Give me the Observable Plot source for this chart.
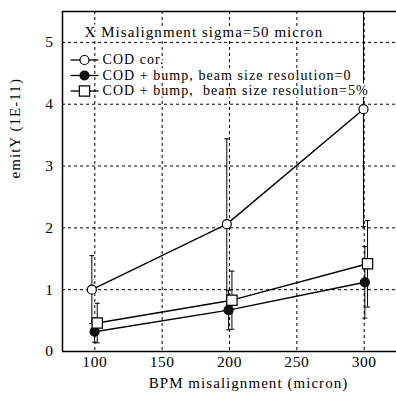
<!DOCTYPE html>
<html><head><meta charset="utf-8">
<script src="https://cdn.jsdelivr.net/npm/d3@7"></script>
<script src="https://cdn.jsdelivr.net/npm/@observablehq/plot@0.6"></script>
<style>
html,body{margin:0;padding:0;background:#fff;}
svg{display:block;overflow:visible}
svg text{font-family:"Liberation Serif","Times New Roman",serif !important;letter-spacing:0.6px;}
svg g[aria-label="text"] text{letter-spacing:1.05px;}
</style>
</head><body><div id="chart"></div>
<script>
const xTicks = [100, 150, 200, 250, 300];
const yTicks = [0, 1, 2, 3, 4, 5];
const xDomain = [76, 324];
const yDomain = [0, 5.5];
const title = "X Misalignment sigma=50 micron";
const xLabel = "BPM misalignment (micron)";
const yLabel = "emitY (1E-11)";
const seriesNames = ["COD cor.", "COD + bump, beam size resolution=0", "COD + bump,  beam size resolution=5%"];
const codX = [97.8, 198, 299.5];
const codY = [1.0, 2.06, 3.92];
const codErr = [0.55, 1.38, 1.9];
const bump0X = [99.8, 199.3, 300.5];
const bump0Y = [0.32, 0.67, 1.12];
const bump0Err = [0.17, 0.32, 0.58];
const bump5X = [101.8, 201.8, 302.5];
const bump5Y = [0.46, 0.83, 1.42];
const bump5Err = [0.32, 0.47, 0.70];

const mk = (name, xs, ys, es) => xs.map((x, i) => ({series: name, x, y: ys[i], lo: ys[i] - es[i], hi: ys[i] + es[i]}));
const cod = mk(seriesNames[0], codX, codY, codErr);
const bump0 = mk(seriesNames[1], bump0X, bump0Y, bump0Err);
const bump5 = mk(seriesNames[2], bump5X, bump5Y, bump5Err);
const all = [...cod, ...bump0, ...bump5];

const cap = {draw(ctx) { ctx.moveTo(-2.5, 0); ctx.lineTo(2.5, 0); }};
const hline = {draw(ctx) { ctx.moveTo(-14, 0); ctx.lineTo(14, 0); }};

const styles = [
  {symbol: "circle", r: 4.5, fill: "white"},
  {symbol: "circle", r: 4.5, fill: "#111"},
  {symbol: "square", r: 5.8, fill: "white"}
];
const rowsDy = [48.5, 64, 79.5];
const serif = "Liberation Serif";

const marks = [
  Plot.ruleX(xTicks, {stroke: "black", strokeWidth: 1, strokeDasharray: "3,3"}),
  Plot.ruleY(yTicks.filter(d => d > 0), {stroke: "black", strokeWidth: 1, strokeDasharray: "3,3"}),
  Plot.ruleY([yDomain[0]], {stroke: "black", strokeWidth: 1.5}),
  Plot.ruleY([yDomain[1]], {stroke: "black", strokeWidth: 1.5}),
  Plot.ruleX([xDomain[0]], {stroke: "black", strokeWidth: 1.5}),
  // error bars
  Plot.ruleX(all, {x: "x", y1: "lo", y2: "hi", stroke: "black", strokeWidth: 1, clip: true}),
  Plot.dot(all, {x: "x", y: "hi", symbol: cap, stroke: "black", strokeWidth: 1, clip: true}),
  Plot.dot(all, {x: "x", y: "lo", symbol: cap, stroke: "black", strokeWidth: 1, clip: true}),
  // lines
  Plot.line(all, {x: "x", y: "y", z: "series", stroke: "black", strokeWidth: 1.4}),
  Plot.dot(cod, {x: "x", y: "y", ...styles[0], stroke: "black", strokeWidth: 1.2}),
  Plot.dot(bump0, {x: "x", y: "y", ...styles[1], stroke: "black", strokeWidth: 1.2}),
  Plot.dot(bump5, {x: "x", y: "y", ...styles[2], stroke: "black", strokeWidth: 1.2}),
  // title & legend
  Plot.text([title], {text: d => d, frameAnchor: "top-left", dx: 22, dy: 21, textAnchor: "start", lineAnchor: "middle", fontSize: 15, fontFamily: serif, fill: "black", stroke: "white", strokeWidth: 5}),
  ...seriesNames.flatMap((name, i) => [
    Plot.text([name], {text: d => d, frameAnchor: "top-left", dx: 40, dy: rowsDy[i], textAnchor: "start", lineAnchor: "middle", fontSize: 14, fontFamily: serif, fill: "black", stroke: "white", strokeWidth: 4}),
    Plot.dot([name], {frameAnchor: "top-left", dx: 22, dy: rowsDy[i], symbol: hline, stroke: "black", strokeWidth: 1.3}),
    Plot.dot([name], {frameAnchor: "top-left", dx: 22, dy: rowsDy[i], ...styles[i], stroke: "black", strokeWidth: 1.2})
  ]),
  // axis labels
  Plot.text([xLabel], {text: d => d, frameAnchor: "bottom", dx: 19, dy: 32, lineAnchor: "middle", fontSize: 15, fontFamily: serif, fill: "black"}),
  Plot.text([yLabel], {text: d => d, frameAnchor: "left", dx: -47, dy: -3, rotate: -90, lineAnchor: "middle", fontSize: 15, fontFamily: serif, fill: "black"})
];

const chart = Plot.plot({
  width: 396,
  height: 397,
  marginLeft: 62,
  marginTop: 11,
  marginBottom: 46,
  marginRight: 0,
  style: {fontFamily: serif, fontSize: "15.5px", color: "black", background: "white"},
  x: {domain: xDomain, ticks: xTicks, tickSize: 0, tickPadding: 4, tickFormat: d => String(d), label: null},
  y: {domain: yDomain, ticks: yTicks, tickSize: 0, tickPadding: 9, tickFormat: d => String(d), label: null},
  marks
});
document.getElementById("chart").appendChild(chart);
</script>
</body></html>
